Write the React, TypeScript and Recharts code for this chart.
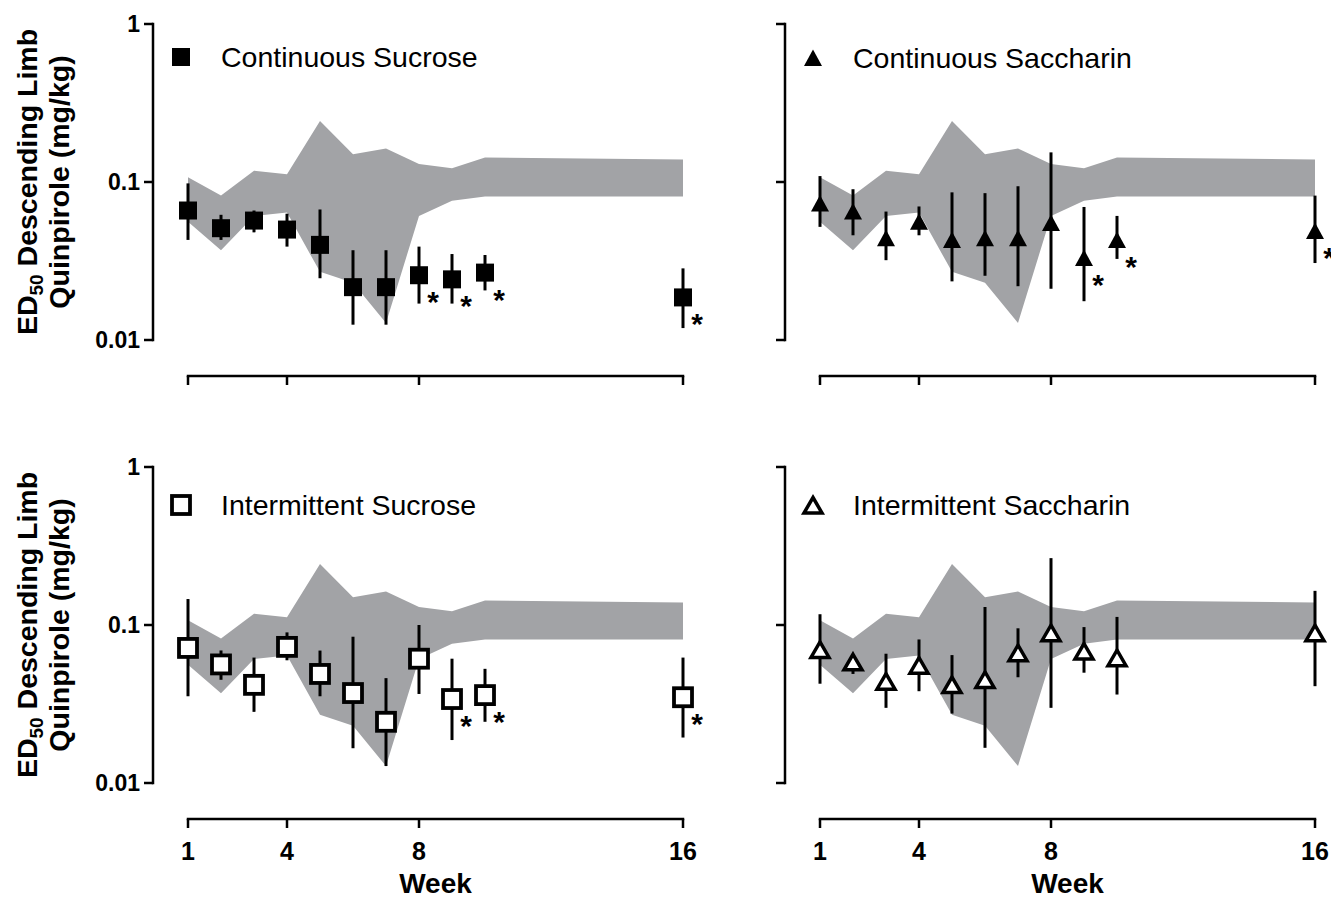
import React from 'react';
import { ComposedChart, Area, Scatter, XAxis, YAxis, ErrorBar } from 'recharts';

const FONT = '"Liberation Sans", Arial, Helvetica, sans-serif';

const weeks = [1, 2, 3, 4, 5, 6, 7, 8, 9, 10, 16];
const weekTicks = [1, 4, 8, 16];
const doseTicks = [0.01, 0.1, 1];

// shaded control range
const bandLower = [0.056, 0.037, 0.061, 0.064, 0.027, 0.023, 0.0128, 0.061, 0.076, 0.081, 0.081];
const bandUpper = [0.107, 0.082, 0.118, 0.112, 0.243, 0.15, 0.163, 0.13, 0.122, 0.143, 0.139];

// Continuous Sucrose
const contSucroseMean = [0.066, 0.051, 0.057, 0.05, 0.04, 0.0216, 0.0216, 0.0257, 0.0242, 0.0267, 0.0186];
const contSucroseLow = [0.043, 0.043, 0.048, 0.039, 0.0246, 0.0125, 0.0125, 0.017, 0.017, 0.0206, 0.0119];
const contSucroseHigh = [0.098, 0.062, 0.066, 0.063, 0.067, 0.037, 0.037, 0.039, 0.035, 0.0345, 0.0284];
const contSucroseSig = [0, 0, 0, 0, 0, 0, 0, 1, 1, 1, 1];

// Continuous Saccharin
const contSaccharinMean = [0.073, 0.065, 0.044, 0.056, 0.043, 0.044, 0.044, 0.055, 0.033, 0.043, 0.049];
const contSaccharinLow = [0.052, 0.046, 0.032, 0.046, 0.0235, 0.0255, 0.0219, 0.0211, 0.0176, 0.0326, 0.0307];
const contSaccharinHigh = [0.109, 0.09, 0.065, 0.07, 0.086, 0.085, 0.094, 0.154, 0.0695, 0.061, 0.082];
const contSaccharinSig = [0, 0, 0, 0, 0, 0, 0, 0, 1, 1, 1];

// Intermittent Sucrose
const intSucroseMean = [0.0716, 0.0563, 0.0418, 0.0727, 0.049, 0.0371, 0.0244, 0.0612, 0.034, 0.036, 0.0349];
const intSucroseLow = [0.0354, 0.045, 0.0282, 0.0598, 0.0354, 0.0166, 0.0128, 0.0366, 0.0187, 0.0244, 0.0194];
const intSucroseHigh = [0.146, 0.069, 0.0622, 0.0898, 0.0689, 0.0843, 0.0461, 0.1, 0.0612, 0.0528, 0.0622];
const intSucroseSig = [0, 0, 0, 0, 0, 0, 0, 0, 1, 1, 1];

// Intermittent Saccharin
const intSaccharinMean = [0.07, 0.0585, 0.0441, 0.0557, 0.042, 0.0452, 0.0668, 0.0894, 0.0684, 0.0621, 0.0894];
const intSaccharinLow = [0.0425, 0.049, 0.0299, 0.0381, 0.0275, 0.0167, 0.0467, 0.0299, 0.0499, 0.0363, 0.041];
const intSaccharinHigh = [0.117, 0.062, 0.0658, 0.081, 0.0645, 0.13, 0.0953, 0.265, 0.097, 0.1125, 0.1645];
const intSaccharinSig = [0, 0, 0, 0, 0, 0, 0, 0, 0, 0, 0];

const bandData = weeks.map((w, i) => ({ week: w, band: [bandLower[i], bandUpper[i]] }));

function buildPoints(mean: number[], low: number[], high: number[], sig: number[]) {
  return weeks.map((w, i) => ({
    week: w,
    value: mean[i],
    err: [mean[i] - low[i], high[i] - mean[i]],
    sig: sig[i] === 1,
  }));
}

type Kind = 'filledSquare' | 'openSquare' | 'filledTriangle' | 'openTriangle';

function MarkerGlyph({ kind, cx, cy }: { kind: Kind; cx: number; cy: number }) {
  if (kind === 'filledSquare') {
    return <rect x={cx - 9} y={cy - 9} width={18} height={18} fill="#000" />;
  }
  if (kind === 'openSquare') {
    return <rect x={cx - 9} y={cy - 9} width={18} height={18} fill="#fff" stroke="#000" strokeWidth={3.8} />;
  }
  if (kind === 'filledTriangle') {
    return <polygon points={`${cx},${cy - 8.5} ${cx + 9},${cy + 8} ${cx - 9},${cy + 8}`} fill="#000" />;
  }
  return (
    <polygon
      points={`${cx},${cy - 7.5} ${cx + 9},${cy + 8} ${cx - 9},${cy + 8}`}
      fill="#fff"
      stroke="#000"
      strokeWidth={3.5}
      strokeLinejoin="miter"
    />
  );
}

function makeShape(kind: Kind) {
  return (props: any) => {
    const { cx, cy, payload } = props;
    if (cx == null || cy == null) return <g />;
    return (
      <g>
        <MarkerGlyph kind={kind} cx={cx} cy={cy} />
        {payload && payload.sig ? (
          <text x={cx + 14} y={cy + 37} textAnchor="middle" fontSize={30} fontWeight="bold" fontFamily={FONT} fill="#000">
            *
          </text>
        ) : null}
      </g>
    );
  };
}

const PLOT_LEFT = 188;
const PLOT_WIDTH = 495;
const PLOT_TOP = 24;
const PLOT_HEIGHT = 316;
const X_AXIS_GAP = 36;
const Y_AXIS_GAP = 35;
const X_AXIS_HEIGHT = 60;
const Y_AXIS_WIDTH = 60;

function makeYTick(showLabel: boolean) {
  return (p: any) => {
    const x = p.x - Y_AXIS_GAP;
    const y = p.y;
    return (
      <g>
        <line x1={x - 9} x2={x} y1={y} y2={y} stroke="#000" strokeWidth={2.5} />
        {showLabel ? (
          <text x={x - 13} y={y + 8} textAnchor="end" fontSize={23} fontWeight="bold" fontFamily={FONT} fill="#000">
            {String(p.payload.value)}
          </text>
        ) : null}
      </g>
    );
  };
}

function makeXTick(showLabel: boolean) {
  return (p: any) => {
    const x = p.x;
    const y = p.y + X_AXIS_GAP;
    return (
      <g>
        <line x1={x} x2={x} y1={y} y2={y + 9} stroke="#000" strokeWidth={2.5} />
        {showLabel ? (
          <text x={x} y={y + 41} textAnchor="middle" fontSize={25} fontWeight="bold" fontFamily={FONT} fill="#000">
            {String(p.payload.value)}
          </text>
        ) : null}
      </g>
    );
  };
}

// y axis line (set off to the left of the plot) plus optional title
function makeYAxisDecor(showTitle: boolean) {
  return (props: any) => {
    const vb = props.viewBox || { x: PLOT_LEFT - Y_AXIS_WIDTH, y: PLOT_TOP, width: Y_AXIS_WIDTH, height: PLOT_HEIGHT };
    const axisX = vb.x + vb.width - Y_AXIS_GAP;
    const cy = vb.y + vb.height / 2;
    return (
      <g>
        <line x1={axisX} x2={axisX} y1={vb.y - 1.25} y2={vb.y + vb.height + 1.25} stroke="#000" strokeWidth={2.5} />
        {showTitle ? (
          <g fontFamily={FONT} fontWeight="bold" fontSize={28.5} fill="#000">
            <text transform={`translate(37,${cy}) rotate(-90)`} textAnchor="middle">
              ED<tspan fontSize={19} dy={6}>50</tspan>
              <tspan dy={-6}> Descending Limb</tspan>
            </text>
            <text transform={`translate(69,${cy}) rotate(-90)`} textAnchor="middle">
              Quinpirole (mg/kg)
            </text>
          </g>
        ) : null}
      </g>
    );
  };
}

// x axis line (set off below the plot) plus optional title
function makeXAxisDecor(showTitle: boolean) {
  return (props: any) => {
    const vb = props.viewBox || { x: PLOT_LEFT, y: PLOT_TOP + PLOT_HEIGHT, width: PLOT_WIDTH, height: X_AXIS_HEIGHT };
    const axisY = vb.y + X_AXIS_GAP;
    return (
      <g>
        <line x1={vb.x - 1.25} x2={vb.x + vb.width + 1.25} y1={axisY} y2={axisY} stroke="#000" strokeWidth={2.5} />
        {showTitle ? (
          <text x={vb.x + vb.width / 2} y={vb.y + 110} textAnchor="middle" fontSize={28} fontWeight="bold" fontFamily={FONT} fill="#000">
            Week
          </text>
        ) : null}
      </g>
    );
  };
}

type PanelProps = {
  left: number;
  top: number;
  width: number;
  height: number;
  points: any[];
  kind: Kind;
  name: string;
  yLabels: boolean;
  xLabels: boolean;
  legendDy: number;
};

function Panel({ left, top, width, height, points, kind, name, yLabels, xLabels, legendDy }: PanelProps) {
  const marginRight = width - PLOT_LEFT - PLOT_WIDTH;
  const marginBottom = height - PLOT_TOP - PLOT_HEIGHT - X_AXIS_HEIGHT;
  return (
    <div style={{ position: 'absolute', left, top, width, height }}>
      <ComposedChart
        width={width}
        height={height}
        data={bandData}
        margin={{ top: PLOT_TOP, left: PLOT_LEFT - Y_AXIS_WIDTH, right: marginRight, bottom: marginBottom }}
        style={{ overflow: 'visible' }}
      >
        <XAxis
          type="number"
          dataKey="week"
          domain={[1, 16]}
          ticks={weekTicks}
          interval={0}
          height={X_AXIS_HEIGHT}
          axisLine={false}
          tickLine={false}
          tickSize={0}
          tickMargin={0}
          tick={makeXTick(xLabels)}
          label={makeXAxisDecor(xLabels)}
        />
        <YAxis
          type="number"
          scale="log"
          domain={[0.01, 1]}
          ticks={doseTicks}
          interval={0}
          width={Y_AXIS_WIDTH}
          axisLine={false}
          tickLine={false}
          tickSize={0}
          tickMargin={0}
          tick={makeYTick(yLabels)}
          label={makeYAxisDecor(yLabels)}
        />
        <Area dataKey="band" type="linear" stroke="none" fill="#a2a3a6" fillOpacity={1} isAnimationActive={false} activeDot={false} dot={false} />
        <Scatter data={points} dataKey="value" shape={makeShape(kind)} isAnimationActive={false}>
          <ErrorBar dataKey="err" direction="y" width={0} stroke="#000" strokeWidth={3} isAnimationActive={false} />
        </Scatter>
      </ComposedChart>
      <svg style={{ position: 'absolute', left: PLOT_LEFT - 24, top: PLOT_TOP + legendDy - 20 }} width={440} height={40}>
        <MarkerGlyph kind={kind} cx={17} cy={20} />
        <text x={57} y={30} fontSize={28.5} fontFamily={FONT} fill="#000">
          {name}
        </text>
      </svg>
    </div>
  );
}

export default function App() {
  return (
    <div style={{ position: 'absolute', left: 0, top: 0, width: 1331, height: 899, overflow: 'hidden', background: '#fff' }}>
      <Panel left={0} top={0} width={720} height={400}
        points={buildPoints(contSucroseMean, contSucroseLow, contSucroseHigh, contSucroseSig)}
        kind="filledSquare" name="Continuous Sucrose" yLabels xLabels={false} legendDy={33} />
      <Panel left={632} top={0} width={699} height={400}
        points={buildPoints(contSaccharinMean, contSaccharinLow, contSaccharinHigh, contSaccharinSig)}
        kind="filledTriangle" name="Continuous Saccharin" yLabels={false} xLabels={false} legendDy={34} />
      <Panel left={0} top={443} width={720} height={456}
        points={buildPoints(intSucroseMean, intSucroseLow, intSucroseHigh, intSucroseSig)}
        kind="openSquare" name="Intermittent Sucrose" yLabels xLabels legendDy={38} />
      <Panel left={632} top={443} width={699} height={456}
        points={buildPoints(intSaccharinMean, intSaccharinLow, intSaccharinHigh, intSaccharinSig)}
        kind="openTriangle" name="Intermittent Saccharin" yLabels={false} xLabels legendDy={38} />
    </div>
  );
}
